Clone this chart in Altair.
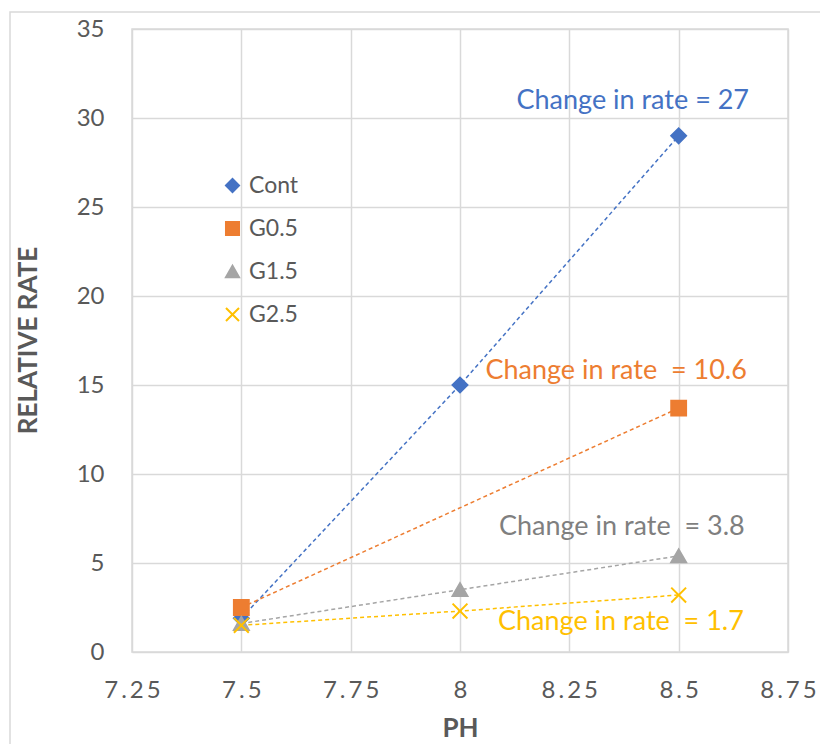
import altair as alt
import pandas as pd

# Series definitions
series = ["Cont", "G0.5", "G1.5", "G2.5"]
series_colors = ["#4472C4", "#ED7D31", "#A5A5A5", "#FFC000"]
series_shapes = ["diamond", "square", "triangle-up",
                 "M-1,-1L1,1M-1,1L1,-1"]

# Relative rate against pH for each treatment
ph_cont = [7.5, 8.0, 8.5]
rate_cont = [1.9, 15.0, 29.0]
ph_g05 = [7.5, 8.5]
rate_g05 = [2.5, 13.7]
ph_g15 = [7.5, 8.0, 8.5]
rate_g15 = [1.6, 3.5, 5.4]
ph_g25 = [7.5, 8.0, 8.5]
rate_g25 = [1.5, 2.3, 3.2]

# Annotations of change in rate (non-breaking space keeps the double gap)
note_text = ["Change in rate = 27", "Change in rate\u00a0 = 10.6",
             "Change in rate\u00a0 = 3.8", "Change in rate\u00a0 = 1.7"]
note_ph = [8.395, 8.357, 8.37, 8.368]
note_rate = [30.96, 15.8, 7.0, 1.7]
note_colors = ["#4472C4", "#ED7D31", "#7F7F7F", "#FFC000"]

x_ticks = [7.25, 7.5, 7.75, 8.0, 8.25, 8.5, 8.75]
y_ticks = [0, 5, 10, 15, 20, 25, 30, 35]

FONT = "Lato"
TEXT_GREY = "#595959"
GRID = "#d9d9d9"

rows = []
for name, xs, ys in [("Cont", ph_cont, rate_cont), ("G0.5", ph_g05, rate_g05),
                     ("G1.5", ph_g15, rate_g15), ("G2.5", ph_g25, rate_g25)]:
    for xv, yv in zip(xs, ys):
        rows.append({"series": name, "ph": xv, "rate": yv})
df = pd.DataFrame(rows)
df["order"] = df["series"].map({s: i for i, s in enumerate(series)})
df["hex"] = df["series"].map(dict(zip(series, series_colors)))

notes = pd.DataFrame({"text": note_text, "ph": note_ph, "rate": note_rate,
                      "color": note_colors})

# x tick labels are drawn letter-spaced
x_label_expr = "join(split(toString(datum.value), ''), '\u2009')"

x_enc = alt.X("ph:Q", scale=alt.Scale(domain=[7.25, 8.75], nice=False, zero=False),
              axis=alt.Axis(values=x_ticks, labelExpr=x_label_expr, title="PH",
                            titleX=328, titleY=76, titleBaseline="middle",
                            labelPadding=26, labelFlush=False))
y_enc = alt.Y("rate:Q", scale=alt.Scale(domain=[0, 35], nice=False),
              axis=alt.Axis(values=y_ticks, title="RELATIVE RATE",
                            titleX=-104, titleY=311, titleBaseline="middle",
                            labelPadding=28))

color_scale = alt.Scale(domain=series, range=series_colors)

lines = alt.Chart(df).mark_line(strokeDash=[4, 3], strokeWidth=1.5).encode(
    x=x_enc, y=y_enc,
    stroke=alt.Stroke("hex:N", scale=None),
    detail="series:N",
)

legend = alt.Legend(title=None, orient="none", legendX=89, legendY=145,
                    labelFontSize=23, labelColor=TEXT_GREY, labelFont=FONT,
                    symbolSize=170, symbolStrokeWidth=2,
                    rowPadding=19, labelOffset=5)

points = alt.Chart(df).mark_point(filled=True, size=220, strokeWidth=2, opacity=1).encode(
    x=x_enc, y=y_enc,
    shape=alt.Shape("series:N", scale=alt.Scale(domain=series, range=series_shapes),
                    legend=legend),
    fill=alt.Fill("series:N", scale=color_scale, legend=legend),
    stroke=alt.Stroke("series:N", scale=color_scale, legend=legend),
    order="order:Q",
)

labels = alt.Chart(notes).mark_text(fontSize=27, font=FONT, align="center",
                                    baseline="middle").encode(
    x=alt.X("ph:Q"), y=alt.Y("rate:Q"), text="text:N",
    color=alt.Color("color:N", scale=None),
)

frame = alt.Chart(pd.DataFrame({"k": [0]})).mark_rect(
    fill=None, stroke=GRID, strokeWidth=1.5).encode(
    x=alt.value(-122), x2=alt.value(720), y=alt.value(-17), y2=alt.value(740))

chart = alt.layer(frame, lines, points, labels).properties(
    width=656, height=623,
    autosize=alt.AutoSizeParams(type="none"),
    padding={"left": 132, "top": 29, "right": 32, "bottom": 92},
).configure_view(stroke=GRID, strokeWidth=1.5).configure_axis(
    grid=True, gridColor=GRID, gridWidth=1.5, domain=False, ticks=False,
    labelFont=FONT, labelFontSize=24, labelColor=TEXT_GREY,
    titleFont=FONT, titleFontSize=26, titleFontWeight="bold", titleColor=TEXT_GREY,
)

chart.save("out.html", embed_options={"renderer": "svg", "actions": False})
